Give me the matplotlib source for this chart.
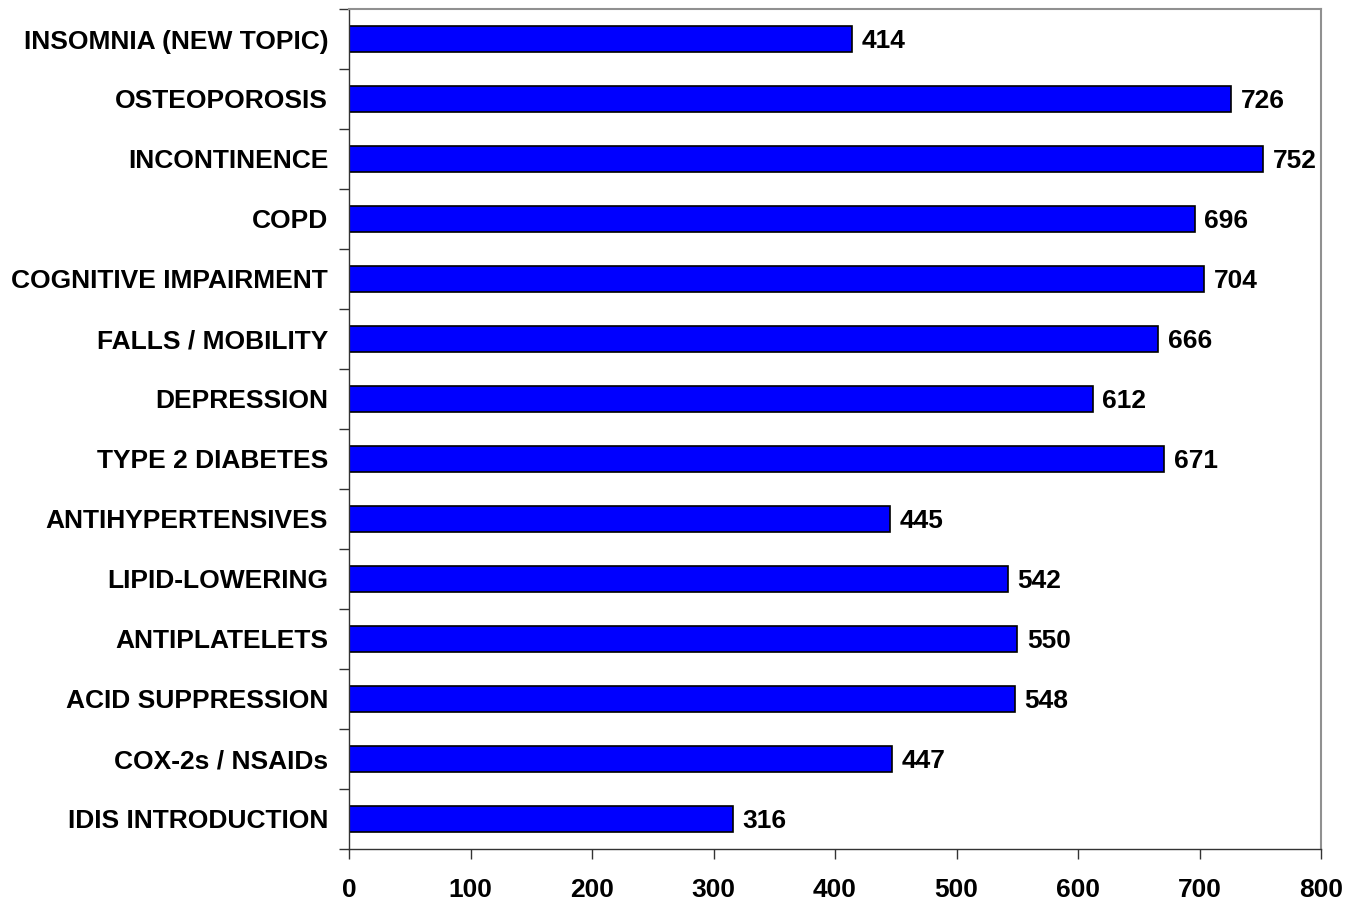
import matplotlib
matplotlib.use("Agg")
import matplotlib.pyplot as plt
import numpy as np

# topics listed bottom-to-top as they appear on the y axis
topics = [
    "IDIS INTRODUCTION",
    "COX-2s / NSAIDs",
    "ACID SUPPRESSION",
    "ANTIPLATELETS",
    "LIPID-LOWERING",
    "ANTIHYPERTENSIVES",
    "TYPE 2 DIABETES",
    "DEPRESSION",
    "FALLS / MOBILITY",
    "COGNITIVE IMPAIRMENT",
    "COPD",
    "INCONTINENCE",
    "OSTEOPOROSIS",
    "INSOMNIA (NEW TOPIC)",
]
counts = [316, 447, 548, 550, 542, 445, 671, 612, 666, 704, 696, 752, 726, 414]
x_ticks = [0, 100, 200, 300, 400, 500, 600, 700, 800]

plt.rcParams["font.family"] = ["Liberation Sans", "DejaVu Sans"]
plt.rcParams["font.weight"] = "bold"

fig = plt.figure(figsize=(13.55, 9.02), dpi=100)
ax = fig.add_axes([349 / 1355, 1 - 849 / 902, (1321 - 349) / 1355, (849 - 9) / 902])

y = np.arange(len(topics))
ax.barh(y, counts, height=0.42, color="#0000FF", edgecolor="black", linewidth=1.2)

for yi, v in zip(y, counts):
    ax.text(v + 8, yi, str(v), va="center_baseline", ha="left", fontsize=19, fontweight="bold")

ax.set_xlim(0, 800)
ax.set_ylim(-0.5, len(topics) - 0.5)
ax.set_xticks(x_ticks)
ax.set_xticklabels([str(t) for t in x_ticks], fontsize=19, fontweight="bold")

# category labels centred, tick marks on the band boundaries
ax.set_yticks(y)
ax.set_yticklabels(topics, fontsize=19, fontweight="bold")
ax.tick_params(axis="y", which="major", length=0, pad=15)
ax.set_yticks(np.arange(-0.5, len(topics), 1.0), minor=True)
ax.tick_params(axis="y", which="minor", length=7, width=1.0, color="#333333")
ax.tick_params(axis="x", length=7, width=1.0, color="#333333", pad=14)

for side in ("top", "right"):
    ax.spines[side].set_color("#909090")
    ax.spines[side].set_linewidth(1.5)
for side in ("left", "bottom"):
    ax.spines[side].set_color("#333333")
    ax.spines[side].set_linewidth(1.0)

fig.savefig("out.png", dpi=100)
